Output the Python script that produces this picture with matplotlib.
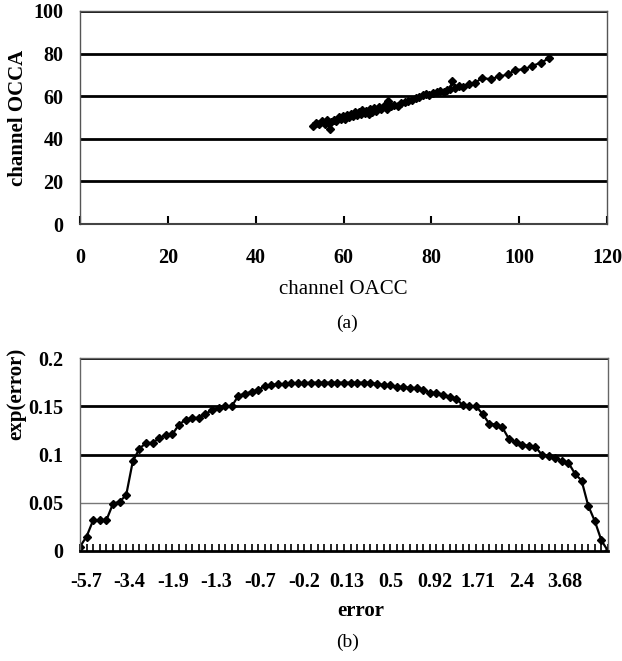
import matplotlib
matplotlib.use("Agg")
import matplotlib.pyplot as plt
import numpy as np

plt.rcParams['font.family'] = ['Liberation Serif', 'DejaVu Serif']

# ---- panel (a) data ----
oacc = [53.0, 53.8, 54.5, 55.2, 55.8, 56.3, 56.9, 57.2, 57.8, 58.3,
        58.9, 59.4, 59.9, 60.3, 60.8, 61.2, 61.7, 62.1, 62.6, 63.0,
        63.5, 63.9, 64.3, 64.8, 65.2, 65.7, 66.1, 66.6, 67.0, 67.5,
        68.0, 68.6, 69.2, 69.8, 70.2, 70.8, 71.5, 72.3, 73.1, 74.0,
        74.8, 75.7, 76.5, 77.3, 78.0, 78.8, 79.5, 80.3, 81.2, 82.0,
        82.8, 83.5, 84.2, 84.8, 85.5, 86.3, 87.1, 88.5, 90.0, 91.5,
        93.5, 95.5, 97.5, 99.0, 101.0, 103.0, 105.0, 106.8]
occa = [46.0, 47.5, 46.8, 48.2, 47.0, 48.6, 44.5, 47.8, 49.0, 48.3,
        50.1, 49.2, 50.6, 49.5, 51.2, 50.3, 51.8, 50.5, 52.4, 51.0,
        52.8, 51.6, 53.4, 52.2, 53.0, 51.8, 53.9, 52.6, 54.5, 53.2,
        55.0, 54.2, 55.6, 54.0, 57.8, 55.2, 56.0, 55.4, 56.8, 57.2,
        57.9, 58.4, 59.2, 59.6, 60.4, 61.0, 60.6, 61.5, 61.8, 62.4,
        62.0, 63.0, 63.5, 67.2, 64.0, 64.6, 64.2, 65.5, 66.3, 68.5,
        68.0, 69.3, 70.2, 72.3, 72.6, 74.2, 75.8, 77.8]
a_xticks = [0, 20, 40, 60, 80, 100, 120]
a_yticks = [0, 20, 40, 60, 80, 100]

# ---- panel (b) data ----
exp_error = [0.0045, 0.015, 0.032, 0.032, 0.032, 0.049, 0.051, 0.058, 0.093, 0.106,
             0.112, 0.112, 0.117, 0.120, 0.121, 0.131, 0.136, 0.138, 0.138, 0.142,
             0.146, 0.148, 0.150, 0.150, 0.161, 0.163, 0.165, 0.167, 0.171, 0.172,
             0.173, 0.173, 0.174, 0.174, 0.174, 0.1745, 0.1745, 0.1745, 0.1745, 0.1745,
             0.1745, 0.1745, 0.1745, 0.1745, 0.1745, 0.173, 0.172, 0.172, 0.170, 0.170,
             0.169, 0.169, 0.167, 0.164, 0.164, 0.162, 0.160, 0.158, 0.151, 0.150,
             0.150, 0.142, 0.132, 0.131, 0.128, 0.116, 0.113, 0.110, 0.109, 0.108,
             0.0995, 0.098, 0.096, 0.0936, 0.0915, 0.080, 0.073, 0.047, 0.031, 0.011,
             0.0]
b_labels = ['-5.7', '-3.4', '-1.9', '-1.3', '-0.7', '-0.2', '0.13', '0.5', '0.92',
            '1.71', '2.4', '3.68']
b_label_step = 6.6
b_yticks = [0, 0.05, 0.1, 0.15, 0.2]

W, H = 622, 661
fig = plt.figure(figsize=(W / 100, H / 100), dpi=100)

def fx(px):
    return px / W

def fy(py):
    return 1 - py / H

tick_font = dict(family='Liberation Serif', weight='bold', size=14.5)

# ================= panel (a) =================
axa = fig.add_axes([fx(80), fy(224), fx(607) - fx(80), fy(11) - fy(224)])
axa.plot(oacc, occa, color='black', lw=1.6, marker='D', ms=3.8, mec='black', mfc='black')
axa.set_xlim(0, 120)
axa.set_ylim(0, 100)
for v in a_yticks[1:]:
    axa.axhline(v, color='black', lw=2, zorder=0)
axa.set_xticks(a_xticks)
axa.set_yticks(a_yticks)
axa.set_xticklabels([str(v) for v in a_xticks], **tick_font)
axa.set_yticklabels([str(v) for v in a_yticks], **tick_font)
axa.tick_params(axis='x', direction='in', length=6, width=1.5, pad=17, color='black')
axa.tick_params(axis='y', length=0, pad=12)
for s in ['left', 'right', 'top']:
    axa.spines[s].set_color('#555555')
    axa.spines[s].set_linewidth(1)
axa.spines['bottom'].set_color('#444444')
axa.spines['bottom'].set_linewidth(1.5)
axa.set_xlabel('channel OACC', family='Liberation Serif', size=15, labelpad=9)
axa.set_ylabel('channel OCCA', family='Liberation Serif', weight='bold', size=15, labelpad=4)
fig.text(fx(347), fy(323), '(a)', ha='center', va='center', family='Liberation Serif', size=14)

# ================= panel (b) =================
axb = fig.add_axes([fx(80), fy(551), fx(608) - fx(80), fy(358) - fy(551)])
xb = np.arange(len(exp_error))
axb.plot(xb, exp_error, color='black', lw=1.6, marker='D', ms=3.8, mec='black', mfc='black')
axb.set_xlim(0, len(exp_error) - 1)
axb.set_ylim(0, 0.2)
axb.axhline(0.05, color='#777777', lw=1, zorder=0)
axb.axhline(0.1, color='black', lw=2, zorder=0)
axb.axhline(0.15, color='black', lw=2, zorder=0)
axb.axhline(0.2, color='black', lw=2, zorder=0)
axb.set_yticks(b_yticks)
axb.set_yticklabels(['0', '0.05', '0.1', '0.15', '0.2'], **tick_font)
axb.set_xticks(xb, minor=True)
axb.set_xticks([i * b_label_step + 0.9 for i in range(len(b_labels))])
axb.set_xticklabels(b_labels, **tick_font)
axb.tick_params(axis='x', which='major', length=0, pad=15)
axb.tick_params(axis='x', which='minor', direction='in', length=5, width=1.2, color='black')
axb.tick_params(axis='y', length=0, pad=12)
for s in ['left', 'right', 'top']:
    axb.spines[s].set_color('#666666')
    axb.spines[s].set_linewidth(1)
axb.spines['bottom'].set_color('black')
axb.spines['bottom'].set_linewidth(2)
fig.text(fx(361), fy(611), 'error', ha='center', va='center', family='Liberation Serif',
         weight='bold', size=15)
fig.text(fx(16), fy(394), 'exp(error)', ha='center', va='center', rotation=90,
         family='Liberation Serif', weight='bold', size=15)
fig.text(fx(348), fy(642), '(b)', ha='center', va='center', family='Liberation Serif', size=14)

fig.savefig('out.png', dpi=100)
